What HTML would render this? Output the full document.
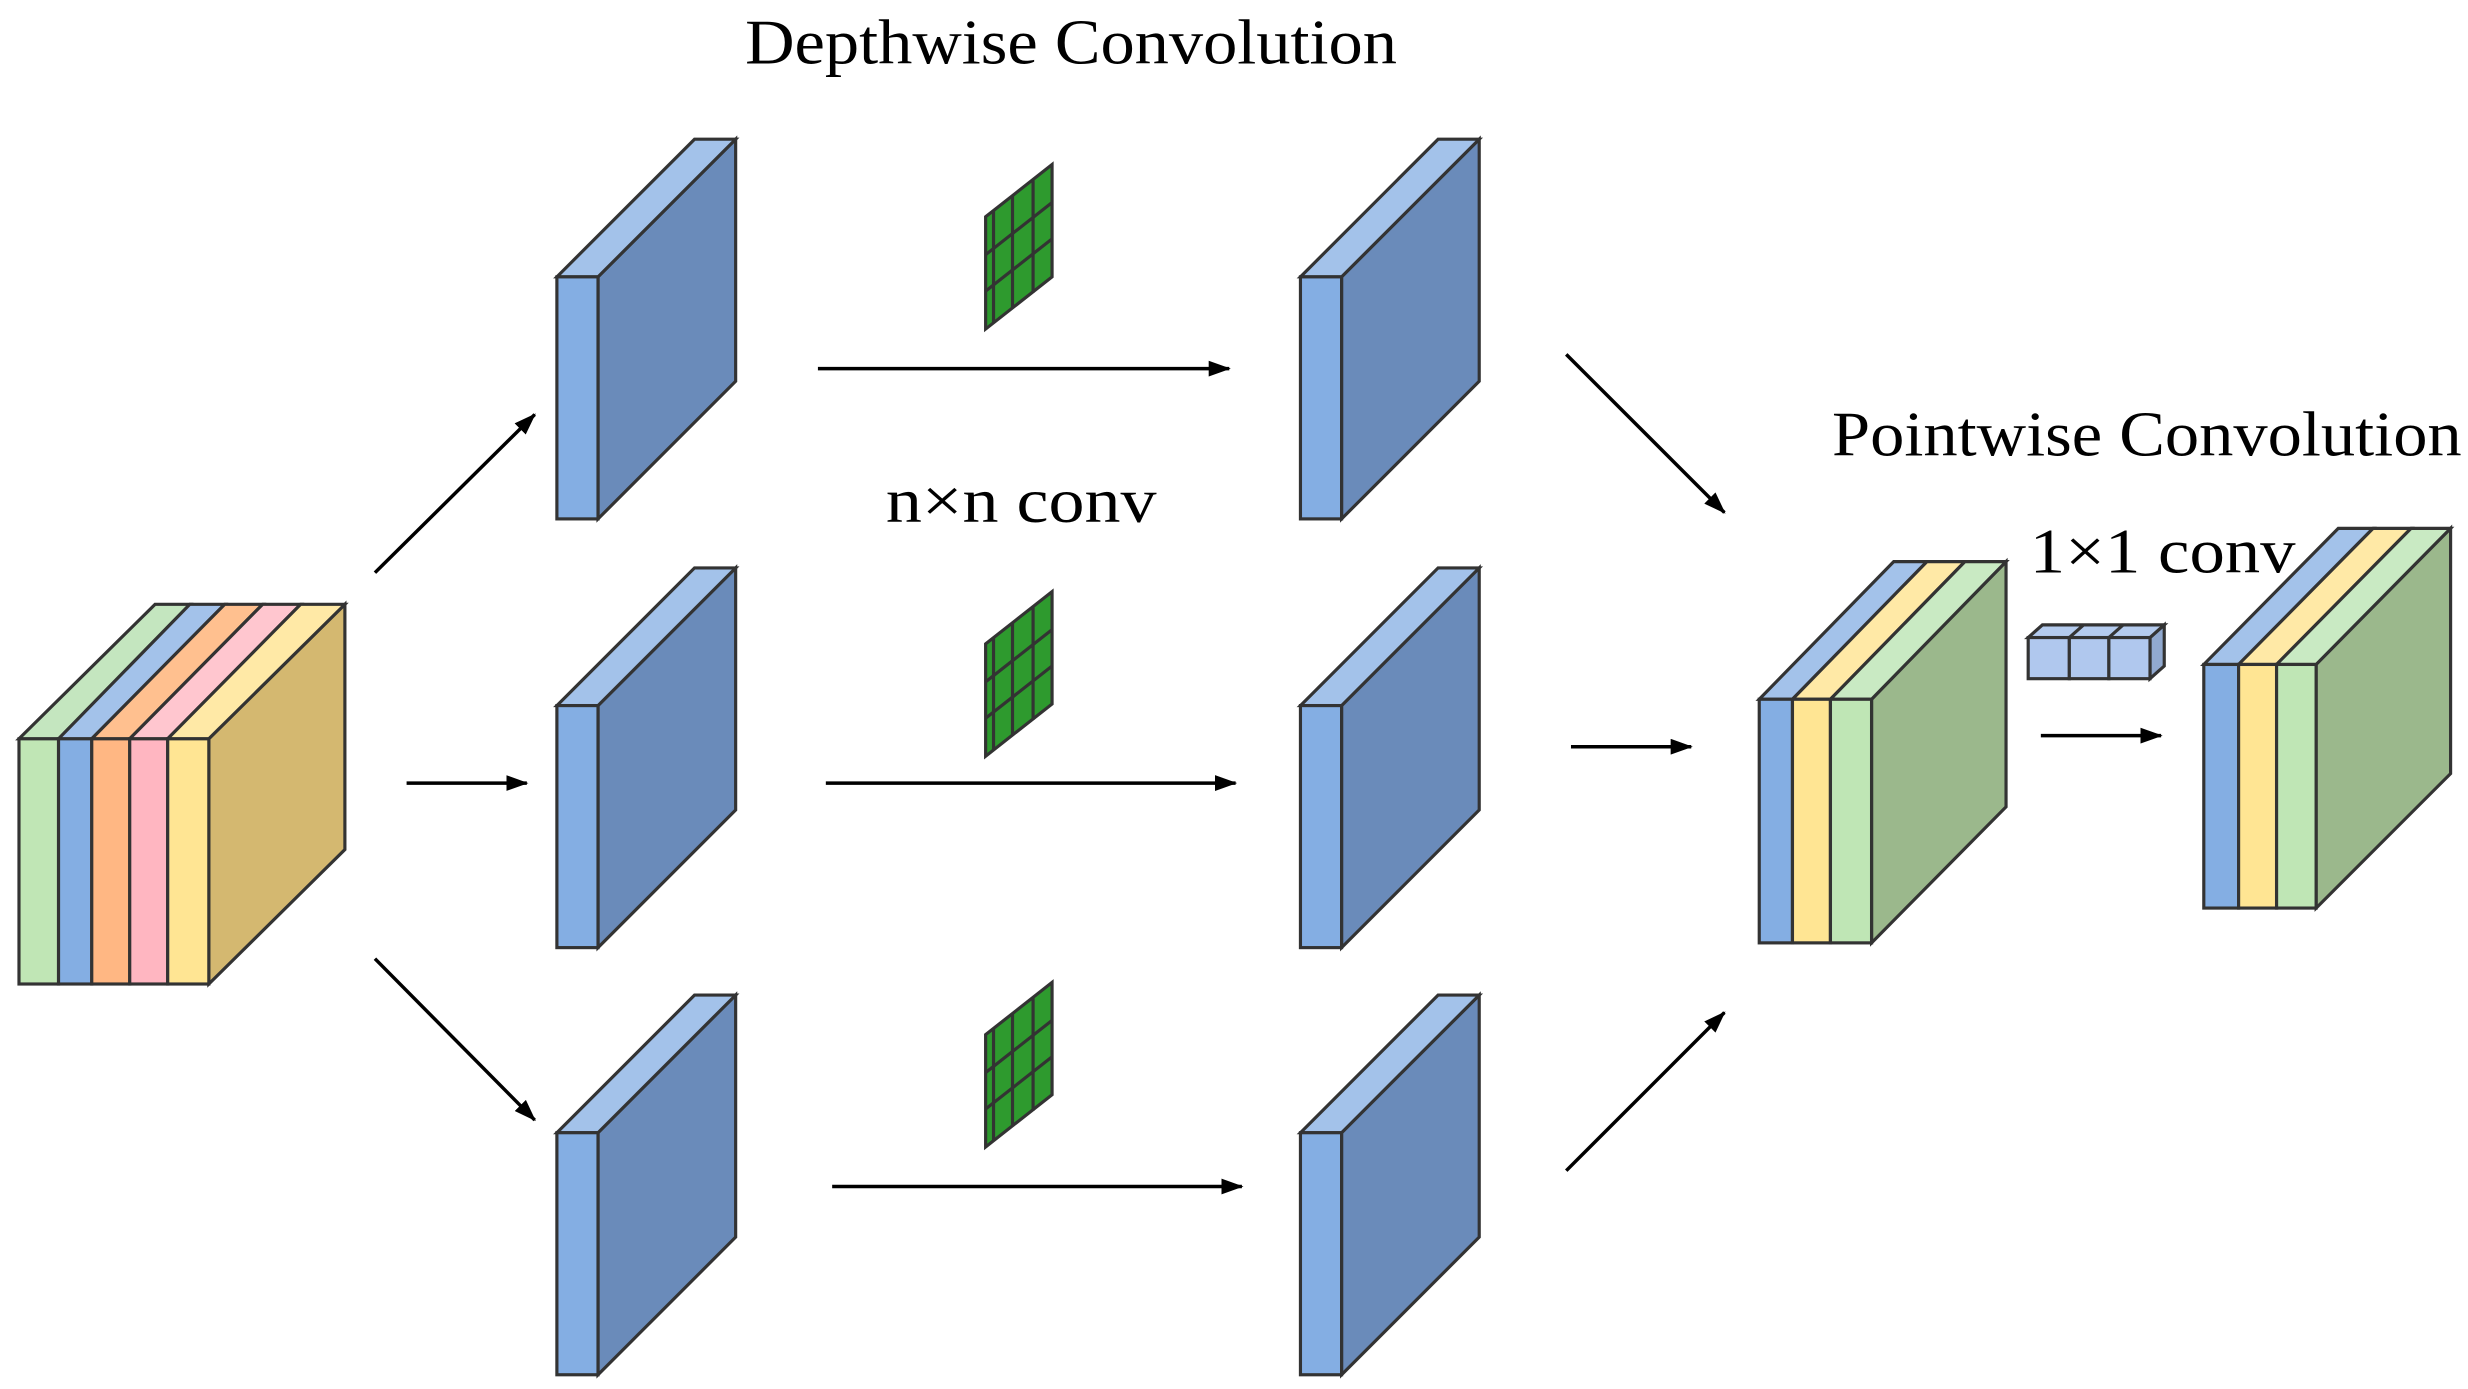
<!DOCTYPE html>
<html><head><meta charset="utf-8"><style>html,body{margin:0;padding:0;background:#fff}svg{display:block}</style></head>
<body>
<svg width="2468" height="1389" viewBox="0 0 1560 878" preserveAspectRatio="none" xmlns="http://www.w3.org/2000/svg">
<defs>
<marker id="ah" markerWidth="14" markerHeight="10" refX="13" refY="5" orient="auto" markerUnits="userSpaceOnUse"><path d="M0,0 L14,5 L0,10 Z" fill="#000"/></marker>
</defs>
<g stroke="#333" stroke-width="2" stroke-linejoin="miter">
<polygon points="132,622 218,537 218,382 132,467" fill="#d4b870"/>
<polygon points="12,467 98,382 120,382 37,467" fill="#c4e6bf"/>
<polygon points="37,467 120,382 142,382 58,467" fill="#a3c2ea"/>
<polygon points="58,467 142,382 166,382 82,467" fill="#ffc08f"/>
<polygon points="82,467 166,382 190,382 106,467" fill="#ffc6cf"/>
<polygon points="106,467 190,382 218,382 132,467" fill="#ffe9a6"/>
<rect x="12" y="467" width="25" height="155" fill="#c0e6b5"/>
<rect x="37" y="467" width="21" height="155" fill="#84aee3"/>
<rect x="58" y="467" width="24" height="155" fill="#ffb783"/>
<rect x="82" y="467" width="24" height="155" fill="#ffb6c1"/>
<rect x="106" y="467" width="26" height="155" fill="#ffe593"/>
</g>
<g stroke="#333" stroke-width="2">
<g id="slab">
<polygon points="378,328 465,241 465,88 378,175" fill="#6a8bba"/>
<polygon points="352,175 439,88 465,88 378,175" fill="#a3c2ea"/>
<rect x="352" y="175" width="26" height="153" fill="#84aee3"/>
</g>
<use href="#slab" y="271"/>
<use href="#slab" y="541"/>
<use href="#slab" x="470"/>
<use href="#slab" x="470" y="271"/>
<use href="#slab" x="470" y="541"/>
<g id="ker">
<polygon points="623,137 665,104 665,175 623,208" fill="#2e9a2e"/>
<line x1="628" y1="133" x2="628" y2="204"/>
<line x1="640" y1="124" x2="640" y2="195"/>
<line x1="653" y1="114" x2="653" y2="185"/>
<line x1="623" y1="161" x2="665" y2="128"/>
<line x1="623" y1="184" x2="665" y2="151"/>
</g>
<use href="#ker" y="270"/>
<use href="#ker" y="517"/>
<polygon points="1183,596 1268,510 1268,355 1183,442" fill="#9bb88c"/>
<polygon points="1112,442 1197,355 1218,355 1133,442" fill="#a3c2ea"/>
<polygon points="1133,442 1218,355 1242,355 1157,442" fill="#ffe9a6"/>
<polygon points="1157,442 1242,355 1268,355 1183,442" fill="#c9eac3"/>
<rect x="1112" y="442" width="21" height="154" fill="#84aee3"/>
<rect x="1133" y="442" width="24" height="154" fill="#ffe593"/>
<rect x="1157" y="442" width="26" height="154" fill="#bfe6b5"/>
<polygon points="1464,574 1549,489 1549,334 1464,420" fill="#9bb88c"/>
<polygon points="1393,420 1478,334 1500,334 1415,420" fill="#a3c2ea"/>
<polygon points="1415,420 1500,334 1524,334 1439,420" fill="#ffe9a6"/>
<polygon points="1439,420 1524,334 1549,334 1464,420" fill="#c9eac3"/>
<rect x="1393" y="420" width="22" height="154" fill="#84aee3"/>
<rect x="1415" y="420" width="24" height="154" fill="#ffe593"/>
<rect x="1439" y="420" width="25" height="154" fill="#bfe6b5"/>
<polygon points="1359,429 1368,421 1368,395 1359,403" fill="#91a9cf"/>
<polygon points="1282,403 1291,395 1368,395 1359,403" fill="#b4cbee"/>
<rect x="1282" y="403" width="26" height="26" fill="#b0c8ee"/>
<rect x="1308" y="403" width="25" height="26" fill="#b0c8ee"/>
<rect x="1333" y="403" width="26" height="26" fill="#b0c8ee"/>
<line x1="1308" y1="403" x2="1317" y2="395"/>
<line x1="1333" y1="403" x2="1342" y2="395"/>
</g>
<g stroke="#000" stroke-width="2.2" fill="none" marker-end="url(#ah)">
<line x1="237" y1="362" x2="338" y2="262"/>
<line x1="257" y1="495" x2="333" y2="495"/>
<line x1="237" y1="606" x2="338" y2="708"/>
<line x1="517" y1="233" x2="777" y2="233"/>
<line x1="522" y1="495" x2="781" y2="495"/>
<line x1="526" y1="750" x2="785" y2="750"/>
<line x1="990" y1="224" x2="1090" y2="324"/>
<line x1="993" y1="472" x2="1069" y2="472"/>
<line x1="990" y1="740" x2="1090" y2="640"/>
<line x1="1290" y1="465" x2="1366" y2="465"/>
</g>
<g font-family="Liberation Serif, serif" fill="#000" font-size="40">
<text x="471" y="40" textLength="412" lengthAdjust="spacingAndGlyphs">Depthwise Convolution</text>
<text x="560" y="330" textLength="171" lengthAdjust="spacingAndGlyphs">n×n conv</text>
<text x="1158" y="288" textLength="398" lengthAdjust="spacingAndGlyphs">Pointwise Convolution</text>
<text x="1283" y="362" textLength="168" lengthAdjust="spacingAndGlyphs">1×1 conv</text>
</g>
</svg>
</body></html>
